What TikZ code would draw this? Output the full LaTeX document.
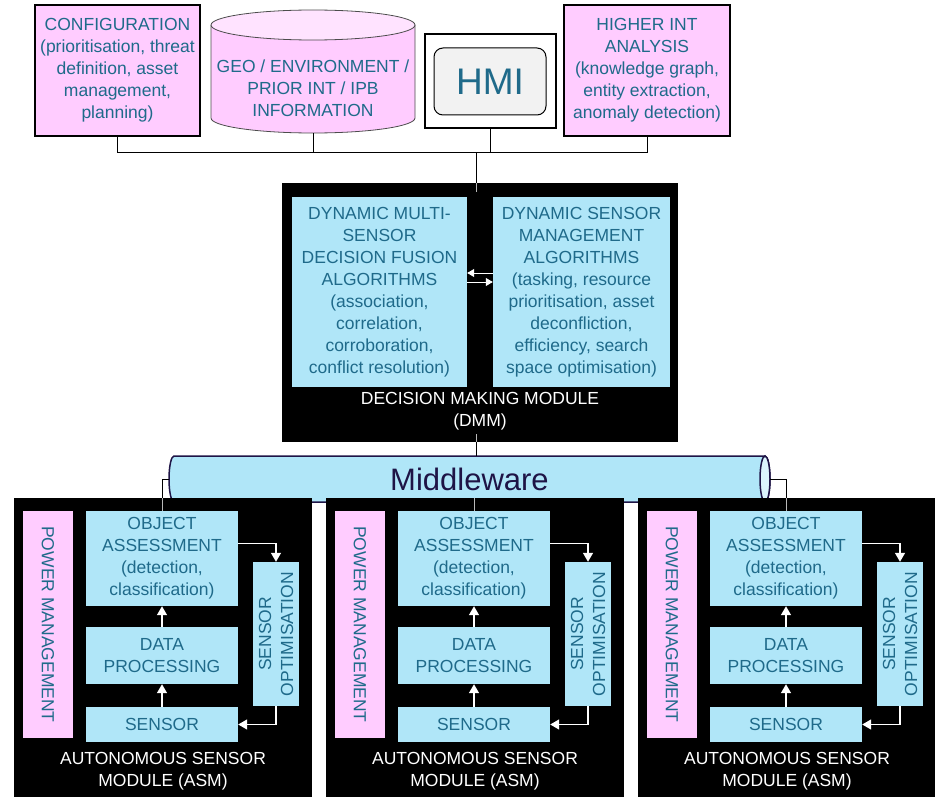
\documentclass[tikz,border=0pt]{standalone}
\usepackage{fontspec}
\setmainfont{Liberation Sans}
\usetikzlibrary{shapes.geometric,arrows.meta,positioning}
\definecolor{pinkfill}{HTML}{FFCCFF}
\definecolor{bluefill}{HTML}{B0E6F8}
\definecolor{tealtext}{HTML}{1F6A8A}
\definecolor{navy}{HTML}{1E1446}
\tikzset{
    textfont/.style={font=\fontsize{17.5}{22}\selectfont},
    pinkbox/.style={draw=black, line width=1.2pt, fill=pinkfill, text=tealtext, align=center, inner sep=0pt, textfont},
    bluebox/.style={fill=bluefill, text=tealtext, align=center, inner sep=0pt, textfont},
    module/.style={fill=black, inner sep=0pt},
    modlabel/.style={text=white, align=center, textfont},
    conn/.style={draw=black, line width=1pt},
    conninner/.style={draw=gray!55, line width=1pt},
    flow/.style={draw=white, line width=1.4pt, -{Triangle[length=9pt,width=10pt]}},
    dmmflow/.style={draw=white, line width=1pt, -{Triangle[length=7pt,width=8pt]}},
    pipe/.style={draw=navy, line width=1.5pt},
    drum/.style={draw=black!70, line width=0.8pt},
}
\newcommand\AsmModule[2]{%
    \begin{scope}[xshift=#2]
        \node[module, minimum width=298pt, minimum height=299pt] (asm#1) at (163,647.5) {};
        \node[pinkbox, draw=none, rotate=-90, minimum width=227pt, minimum height=50pt] (pm#1) at (48,624.5) {POWER MANAGEMENT};
        \node[bluebox, minimum width=152pt, minimum height=95pt] (oa#1) at (162,558.5) {OBJECT\\ASSESSMENT\\(detection,\\classification)};
        \node[bluebox, minimum width=152pt, minimum height=57pt] (dp#1) at (162,655.5) {DATA\\PROCESSING};
        \node[bluebox, minimum width=152pt, minimum height=35pt] (sen#1) at (162,724.5) {SENSOR};
        \node[bluebox, rotate=90, minimum width=144pt, minimum height=46pt] (so#1) at (276,634) {SENSOR\\OPTIMISATION};
        \node[modlabel] (asmlabel#1) at (163,771) {AUTONOMOUS SENSOR\\MODULE (ASM)};
        \draw[flow] (sen#1) -- (dp#1);
        \draw[flow] (dp#1) -- (oa#1);
        \draw[flow] ([yshift=15pt]oa#1.east) -| (so#1.east);
        \draw[flow] (so#1.west) |- (sen#1.east);
    \end{scope}
}

\begin{document}
\begin{tikzpicture}[x=1pt,y=-1pt]
    \useasboundingbox (0,0) rectangle (935,797);
    % inputs
    \node[pinkbox, minimum width=165pt, minimum height=131pt] (cfg) at (117.5,70.5) {CONFIGURATION\\(prioritisation, threat\\definition, asset\\management,\\planning)};
    \path[drum, fill=pinkfill] (211,25) -- (211,118) arc[start angle=180, end angle=360, x radius=102pt, y radius=15pt] -- (415,25);
    \draw[drum, fill=pinkfill!55] (313,25) ellipse[x radius=102pt, y radius=15pt];
    \node[text=tealtext, align=center, inner sep=0pt, textfont,
        minimum width=204pt, minimum height=90pt] (geo) at (313,88) {GEO / ENVIRONMENT /\\PRIOR INT / IPB\\INFORMATION};
    \node[draw=black, line width=1.2pt, fill=white, minimum width=131pt, minimum height=94pt] (hmiframe) at (490.5,81) {};
    \node[draw=black, line width=1pt, fill=gray!10, rounded corners=9pt, text=tealtext,
        font=\fontsize{37}{40}\selectfont, minimum width=112pt, minimum height=67pt] (hmi) at (490,81.5) {HMI};
    \node[pinkbox, minimum width=166pt, minimum height=131pt] (hia) at (647,70.5) {HIGHER INT\\ANALYSIS\\(knowledge graph,\\entity extraction,\\anomaly detection)};
    % DMM
    \node[module, minimum width=396pt, minimum height=259pt] (dmm) at (480,312.5) {};
    \node[bluebox, minimum width=175pt, minimum height=190pt] (dmf) at (379.5,292) {DYNAMIC MULTI-\\SENSOR\\DECISION FUSION\\ALGORITHMS\\(association,\\correlation,\\corroboration,\\conflict resolution)};
    \node[bluebox, minimum width=177pt, minimum height=190pt] (dsm) at (581.5,292) {DYNAMIC SENSOR\\MANAGEMENT\\ALGORITHMS\\(tasking, resource\\prioritisation, asset\\deconfliction,\\efficiency, search\\space optimisation)};
    \node[modlabel] (dmmlabel) at (480,411) {DECISION MAKING MODULE\\(DMM)};
    \draw[dmmflow] ([yshift=19pt]dsm.west) -- ([yshift=19pt]dmf.east);
    \draw[dmmflow] ([yshift=10pt]dmf.east) -- ([yshift=10pt]dsm.west);
    % middleware pipe
    \path[pipe, fill=bluefill] (174,456) -- (765,456) arc[start angle=90, end angle=-90, x radius=5pt, y radius=23pt]
        -- (174,502) arc[start angle=270, end angle=90, x radius=5pt, y radius=23pt] -- cycle;
    \draw[pipe, fill=bluefill!45] (765,479) ellipse[x radius=5pt, y radius=23pt];
    \node[inner sep=0pt, text=navy, font=\fontsize{31}{34}\selectfont,
        minimum width=601pt, minimum height=46pt] (mw) at (469.5,479) {Middleware};
    % ASMs
    \AsmModule{1}{0pt}
    \AsmModule{2}{312pt}
    \AsmModule{3}{624pt}
    % bus
    \coordinate (bus) at (476,153);
    \draw[conn] (cfg.south) |- (bus);
    \draw[conn] (hia.south) |- (bus);
    \draw[conn] (geo.south) -- (geo.south |- bus);
    \draw[conn] (hmiframe.south) -- (hmiframe.south |- bus);
    \draw[conn] (bus) -- (bus |- dmm.north);
    \draw[conninner] (bus |- dmm.north) -- ++(0,9);
    \draw[conninner] (bus |- dmm.south) -- ++(0,-8);
    \draw[conn] (bus |- dmm.south) -- (bus |- mw.north);
    \draw[conn] (mw.west) -| (oa1.north |- asm1.north);
    \draw[conninner] (oa1.north |- asm1.north) -- (oa1.north);
    \draw[conn] (oa2.north |- mw.south) -- (oa2.north |- asm2.north);
    \draw[conninner] (oa2.north |- asm2.north) -- (oa2.north);
    \draw[conn] (mw.east) -| (oa3.north |- asm3.north);
    \draw[conninner] (oa3.north |- asm3.north) -- (oa3.north);
\end{tikzpicture}
\end{document}
